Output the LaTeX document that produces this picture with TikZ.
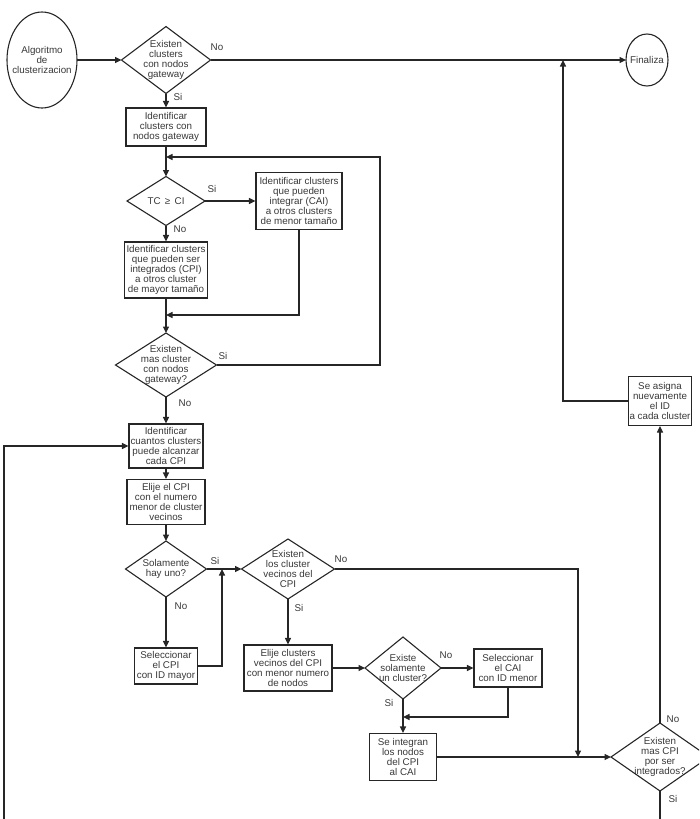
\documentclass[tikz,border=0pt]{standalone}
\usepackage{fontspec}
\setmainfont{Liberation Sans}
\usetikzlibrary{arrows.meta}
\begin{document}
\begin{tikzpicture}[x=1pt,y=-1pt,
  every node/.style={font=\fontsize{9.8}{10}\selectfont, text=black!78},
  ln/.style={draw=black!85, line width=1.1pt},
  arr/.style={ln, -{Triangle[length=6.5pt,width=6pt]}},
  box/.style n args={2}{ln, rectangle, inner sep=0pt, align=center, minimum width=#1, minimum height=#2},
  dia/.style n args={2}{rectangle, inner sep=0pt, outer sep=0pt, align=center, minimum width=#1, minimum height=#2},
  oval/.style n args={2}{rectangle, inner sep=0pt, outer sep=0pt, align=center, minimum width=#1, minimum height=#2},
  lbl/.style={inner sep=0pt}
]
\useasboundingbox (0,0) rectangle (699,819);
\clip (0,0) rectangle (699,819);

% terminals
\node[oval={70}{96}] (st) at (42,60) {Algoritmo\\de\\clusterizacion};
\draw[ln] (st) ellipse [x radius=35, y radius=48];
\node[oval={42}{52}] (fin) at (647,60) {Finaliza};
\draw[ln] (fin) ellipse [x radius=21, y radius=26];

% decisions
\node[dia={89}{67}] (d1) at (166,60) {Existen\\clusters\\con nodos\\gateway};
\node[dia={78}{49}] (d2) at (166,201) {TC \,≥\, CI};
\node[dia={101}{64}] (d3) at (166,365) {Existen\\mas cluster\\con nodos\\gateway?};
\node[dia={81}{56}] (d4) at (166,569) {Solamente\\hay uno?};
\node[dia={93}{60}] (d5) at (288,569) {Existen\\los cluster\\vecinos del\\CPI};
\node[dia={76}{62}] (d6) at (403,668) {Existe\\solamente\\un cluster?};
\node[dia={98}{68}] (d7) at (660,757) {Existen\\mas CPI\\por ser\\integrados?};
\foreach \n in {d1,d2,d3,d4,d5,d6,d7}
  \draw[ln] (\n.north) -- (\n.east) -- (\n.south) -- (\n.west) -- cycle;

% process boxes
\node[box={80}{38}] (b1) at (166,127) {Identificar\\clusters con\\nodos gateway};
\node[box={86}{57}] (b2) at (299,201) {Identificar clusters\\que pueden\\integrar (CAI)\\a otros clusters\\de menor tamaño};
\node[box={83}{56}] (b3) at (166,270) {Identificar clusters\\que pueden ser\\integrados (CPI)\\a otros cluster\\de mayor tamaño};
\node[box={74}{44}] (b4) at (166,446) {Identificar\\cuantos clusters\\puede alcanzar\\cada CPI};
\node[box={78}{45}] (b5) at (166,502) {Elije el CPI\\con el numero\\menor de cluster\\vecinos};
\node[box={63}{36}] (b6) at (166,666) {Seleccionar\\el CPI\\con ID mayor};
\node[box={88}{46}] (b7) at (288,668) {Elije clusters\\vecinos del CPI\\con menor numero\\de nodos};
\node[box={68}{38}] (b8) at (508,668) {Seleccionar\\el CAI\\con ID menor};
\node[box={67}{47}] (b9) at (403,757) {Se integran\\los nodos\\del CPI\\al CAI};
\node[box={63}{49}] (b10) at (660,401) {Se asigna\\nuevamente\\el ID\\a cada cluster};

% helper coordinates
\coordinate (r1) at (380,157);
\coordinate (j1) at (166,157);
\coordinate (r2) at (299,315);
\coordinate (j2) at (166,315);
\coordinate (r3) at (222,666);
\coordinate (j3) at (222,569);
\coordinate (r4) at (578,569);
\coordinate (j4) at (578,757);
\coordinate (r5) at (508,717);
\coordinate (j5) at (403,717);
\coordinate (r6) at (563,401);
\coordinate (j6) at (563,60);
\coordinate (bl) at (4,819);
\coordinate (l4) at (4,446);
\coordinate (br) at (660,819);

% connectors
\draw[arr] (st.east) -- (d1.west);
\draw[arr] (d1.east) -- (fin.west);
\draw[arr] (d1.south) -- (b1.north);
\draw[arr] (b1.south) -- (d2.north);
\draw[arr] (d3.east) -| (r1) -- (j1);
\draw[arr] (d2.east) -- (b2.west);
\draw[arr] (d2.south) -- (b3.north);
\draw[arr] (b2.south) -- (r2) -- (j2);
\draw[arr] (b3.south) -- (d3.north);
\draw[arr] (d3.south) -- (b4.north);
\draw[arr] (b4.south) -- (b5.north);
\draw[arr] (b5.south) -- (d4.north);
\draw[arr] (d4.east) -- (d5.west);
\draw[arr] (d4.south) -- (b6.north);
\draw[arr] (b6.east) -- (r3) -- (j3);
\draw[arr] (d5.east) -- (r4) -- (j4);
\draw[arr] (d5.south) -- (b7.north);
\draw[arr] (b7.east) -- (d6.west);
\draw[arr] (d6.east) -- (b8.west);
\draw[arr] (d6.south) -- (b9.north);
\draw[arr] (b8.south) -- (r5) -- (j5);
\draw[arr] (b9.east) -- (d7.west);
\draw[arr] (d7.north) -- (b10.south);
\draw[arr] (b10.west) -- (r6) -- (j6);
\draw[ln] (d7.south) -- (br);
\draw[arr] (bl) -- (l4) -- (b4.west);

% branch labels
\node[lbl] (n1) at (217,47) {No};
\node[lbl] (s1) at (178,97) {Si};
\node[lbl] (s2) at (212,189) {Si};
\node[lbl] (n2) at (180,229) {No};
\node[lbl] (s3) at (223,356) {Si};
\node[lbl] (n3) at (185,403) {No};
\node[lbl] (s4) at (215,561) {Si};
\node[lbl] (n4) at (181,606) {No};
\node[lbl] (n5) at (341,559) {No};
\node[lbl] (s5) at (299,608) {Si};
\node[lbl] (n6) at (446,655) {No};
\node[lbl] (s6) at (389,703) {Si};
\node[lbl] (n7) at (673,719) {No};
\node[lbl] (s7) at (673,799) {Si};
\end{tikzpicture}
\end{document}
